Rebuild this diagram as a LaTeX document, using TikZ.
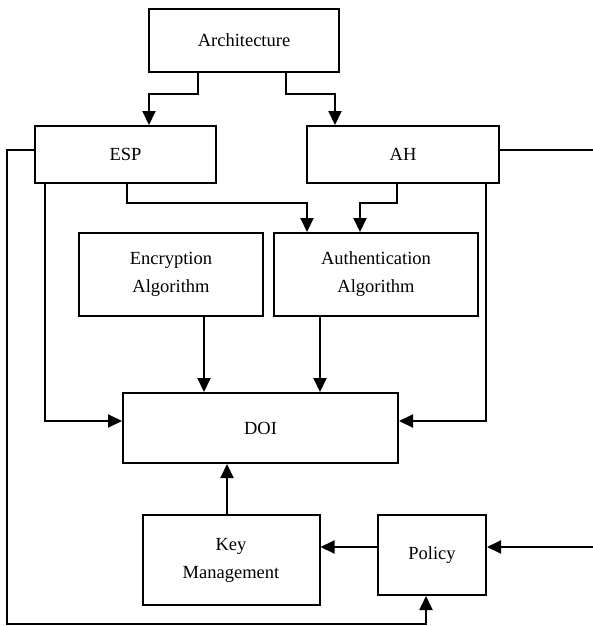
\documentclass[tikz,border=0pt]{standalone}
\usepackage{fontspec}
\setmainfont{Liberation Serif}
\usetikzlibrary{arrows.meta}
\begin{document}
\begin{tikzpicture}[x=1pt,y=-1pt,
  box/.style={draw,line width=2pt,rectangle,inner sep=0pt,align=center,
    font=\fontsize{18.5}{28}\selectfont},
  arr/.style={line width=2pt,-{Triangle[length=14pt,width=13pt]}},
  ln/.style={line width=2pt}]
\useasboundingbox (0,0) rectangle (593,626);
\node[box,minimum width=190pt,minimum height=63pt] (arch) at (244,40.5) {Architecture};
\node[box,minimum width=181pt,minimum height=57pt] (esp) at (125.5,154.5) {ESP};
\node[box,minimum width=192pt,minimum height=57pt] (ah) at (403,154.5) {AH};
\node[box,minimum width=184pt,minimum height=83pt] (enc) at (171,274.5) {Encryption\\Algorithm};
\node[box,minimum width=204pt,minimum height=83pt] (auth) at (376,274.5) {Authentication\\Algorithm};
\node[box,minimum width=275pt,minimum height=70pt] (doi) at (260.5,428) {DOI};
\node[box,minimum width=177pt,minimum height=90pt] (km) at (231,560) {Key\\Management};
\node[box,minimum width=108pt,minimum height=80pt] (pol) at (432,555) {Policy};
\coordinate (rout) at (593,150);
\coordinate (rin) at (593,547);
\coordinate (bl) at (7,624);
% arrows
\draw[arr] ([xshift=-46pt]arch.south) -- ++(0,21) -| ([xshift=23.5pt]esp.north);
\draw[arr] ([xshift=42pt]arch.south) -- ++(0,21) -| ([xshift=-68pt]ah.north);
\draw[arr] ([xshift=1.5pt]esp.south) -- ++(0,19) -| ([xshift=-69pt]auth.north);
\draw[arr] ([xshift=-6pt]ah.south) -- ++(0,19) -| ([xshift=-16pt]auth.north);
\draw[arr] ([xshift=-80.5pt]esp.south) |- ([yshift=7pt]doi.west);
\draw[arr] ([xshift=83pt]ah.south) |- ([yshift=7pt]doi.east);
\draw[arr] ([xshift=33pt]enc.south) -- ([xshift=33pt]enc.south |- doi.north);
\draw[arr] ([xshift=-56pt]auth.south) -- ([xshift=-56pt]auth.south |- doi.north);
\draw[arr] ([xshift=-4pt]km.north) -- ([xshift=-4pt]km.north |- doi.south);
\draw[arr] ([yshift=8pt]pol.west) -- ([yshift=8pt]pol.west -| km.east);
\draw[arr] (rin) -- (rin -| pol.east);
\draw[ln] (rout -| ah.east) -- (rout);
\draw[arr] (esp.west |- rout) -| (bl) -| ([xshift=-6pt]pol.south);
\end{tikzpicture}
\end{document}
